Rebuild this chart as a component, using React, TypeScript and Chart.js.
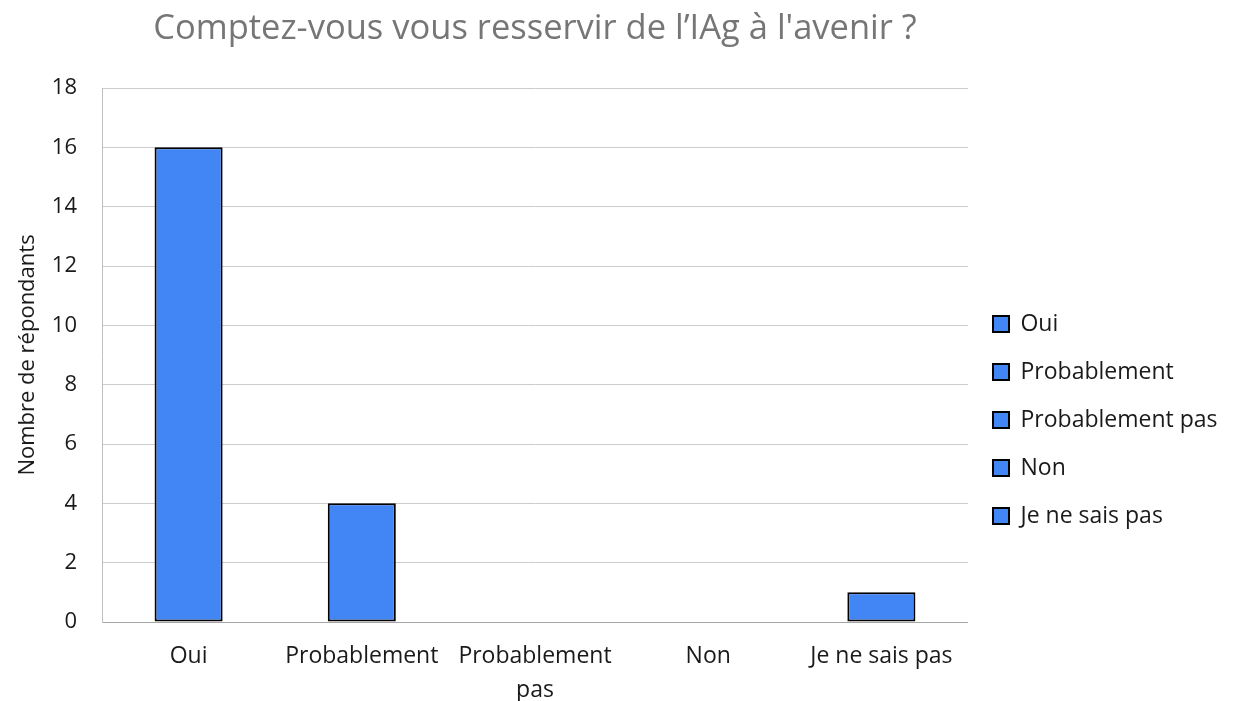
import React, { useEffect, useRef } from "react";
import { Chart, registerables } from "chart.js";

Chart.register(...registerables);

const chartTitle = "Comptez-vous vous resservir de l’IAg à l'avenir ?";
const yAxisTitle = "Nombre de répondants";
const categories = ["Oui", "Probablement", "Probablement pas", "Non", "Je ne sais pas"];
const tickLabels: (string | string[])[] = ["Oui", "Probablement", ["Probablement", "pas"], "Non", "Je ne sais pas"];
const values = [16, 4, 0, 0, 1];
const yMin = 0;
const yMax = 18;
const yStep = 2;

const FONT = "'Open Sans', 'DejaVu Sans', sans-serif";
const BAR_COLOR = "#4285F4";
const BORDER_COLOR = "#000000";
const TEXT_COLOR = "#1a1a1a";

export default function App() {
  const ref = useRef<HTMLCanvasElement | null>(null);

  useEffect(() => {
    if (!ref.current) return;
    const chart = new Chart(ref.current, {
      type: "bar",
      data: {
        labels: tickLabels,
        datasets: [
          {
            label: "Série",
            data: values,
            backgroundColor: BAR_COLOR,
            borderColor: BORDER_COLOR,
            borderWidth: (c: any) => (c.raw === 0 ? 0 : 2),
            borderSkipped: false,
            barPercentage: 0.393,
            categoryPercentage: 1,
          },
        ],
      },
      options: {
        animation: false,
        responsive: true,
        maintainAspectRatio: false,
        layout: { padding: { left: 0, right: 8.5, top: 0, bottom: 0 } },
        plugins: {
          tooltip: { enabled: false },
          title: {
            display: true,
            fullSize: false,
            text: chartTitle,
            color: "#767676",
            font: { family: FONT, size: 34.5, weight: "normal", lineHeight: 1.2 },
            padding: { top: 8.5, bottom: 38.1 },
          },
          legend: {
            display: true,
            position: "right",
            fullSize: true,
            title: {
              display: true,
              text: "",
              font: { family: FONT, size: 12 },
              padding: { top: 124.6, bottom: 0 },
            },
            labels: {
              boxWidth: 16,
              boxHeight: 16,
              padding: 25,
              color: TEXT_COLOR,
              font: { family: FONT, size: 23 },
              generateLabels: () =>
                categories.map((c, i) => ({
                  text: c,
                  fillStyle: BAR_COLOR,
                  strokeStyle: BORDER_COLOR,
                  fontColor: TEXT_COLOR,
                  lineWidth: 2,
                  hidden: false,
                  index: i,
                  datasetIndex: 0,
                })),
            },
          },
        },
        scales: {
          x: {
            grid: { display: false, drawTicks: false },
            border: { display: true, color: "#A6A6A6", width: 1 },
            ticks: {
              color: TEXT_COLOR,
              font: { family: FONT, size: 23, lineHeight: 1.45 },
              padding: 18,
              maxRotation: 0,
              autoSkip: false,
            },
            afterFit: (scale: any) => {
              scale.height = 79;
            },
          },
          y: {
            min: yMin,
            max: yMax,
            grid: { color: "#CCCCCC", lineWidth: 1, drawTicks: false },
            border: { display: true, color: "#BFBFBF", width: 1 },
            ticks: {
              stepSize: yStep,
              color: TEXT_COLOR,
              font: { family: FONT, size: 22 },
              padding: 25,
            },
            title: {
              display: true,
              text: yAxisTitle,
              color: TEXT_COLOR,
              font: { family: FONT, size: 22, lineHeight: 1.2 },
              padding: { top: 15, bottom: 10 },
            },
            afterFit: (scale: any) => {
              scale.width = 102;
            },
          },
        },
      },
    });
    return () => chart.destroy();
  }, []);

  return (
    <div style={{ position: "fixed", left: 0, top: 0, width: 1236, height: 701, background: "#ffffff" }}>
      <canvas ref={ref} />
    </div>
  );
}
